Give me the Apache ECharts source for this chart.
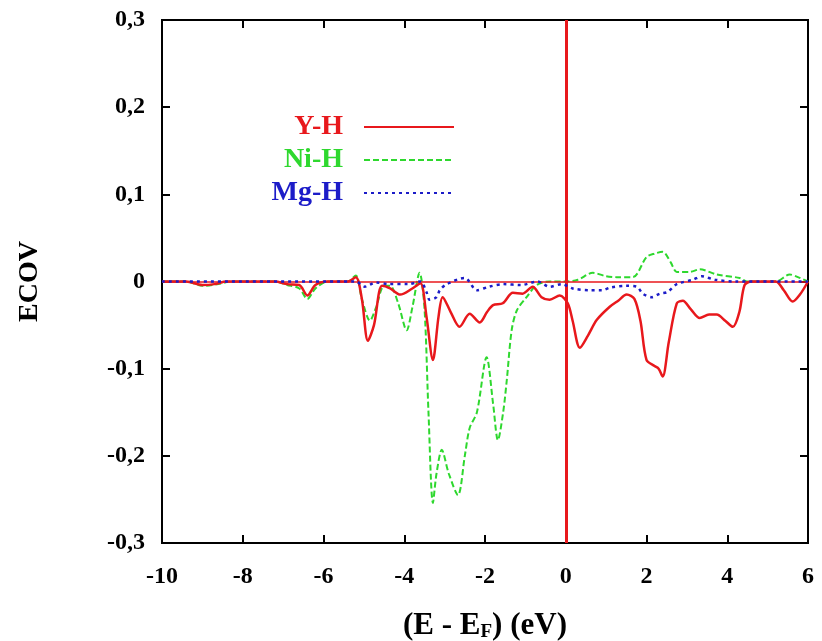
<!DOCTYPE html>
<html>
<head>
<meta charset="utf-8">
<script src="https://cdn.jsdelivr.net/npm/echarts@6/dist/echarts.min.js"></script>
<style>html,body{margin:0;padding:0;background:#fff}#c{width:822px;height:641px}</style>
</head>
<body>
<div id="c"></div>
<script>
// Y-H
var yhX = [-10,-9.4,-9.0,-8.7,-8.4,-7.2,-6.9,-6.6,-6.4,-6.2,-5.9,-5.4,-5.2,-5.05,-4.9,-4.75,-4.55,-4.35,-4.1,-3.8,-3.6,-3.45,-3.29,-3.15,-3.05,-2.85,-2.63,-2.38,-2.13,-1.95,-1.8,-1.56,-1.31,-1.07,-0.82,-0.6,-0.4,-0.15,0.05,0.17,0.35,0.55,0.77,1.09,1.3,1.51,1.7,1.85,2.0,2.2,2.3,2.4,2.55,2.75,2.9,3.1,3.32,3.55,3.74,3.95,4.14,4.3,4.43,4.6,5.2,5.4,5.62,5.8,6.0];
var yhY = [0,0,-0.004,-0.003,0,0,-0.003,-0.004,-0.016,-0.004,0,0,0.005,-0.02,-0.068,-0.05,-0.005,-0.008,-0.015,-0.008,-0.002,-0.04,-0.09,-0.04,-0.018,-0.035,-0.052,-0.037,-0.047,-0.035,-0.027,-0.025,-0.013,-0.014,-0.006,-0.018,-0.021,-0.016,-0.025,-0.045,-0.076,-0.062,-0.044,-0.029,-0.022,-0.015,-0.02,-0.045,-0.09,-0.097,-0.1,-0.109,-0.07,-0.025,-0.022,-0.032,-0.042,-0.038,-0.038,-0.045,-0.052,-0.035,-0.004,0,0,-0.01,-0.023,-0.015,0];
// Ni-H
var niX = [-10,-9.4,-9.0,-8.6,-8.3,-7.2,-6.9,-6.6,-6.4,-6.2,-5.9,-5.4,-5.2,-5.05,-4.85,-4.7,-4.5,-4.35,-4.15,-3.94,-3.8,-3.62,-3.5,-3.4,-3.29,-3.2,-3.07,-2.9,-2.67,-2.5,-2.38,-2.2,-1.96,-1.8,-1.68,-1.55,-1.46,-1.34,-1.21,-0.97,-0.72,-0.4,0,0.3,0.67,1.0,1.26,1.66,2.0,2.2,2.4,2.6,2.75,3.07,3.32,3.74,4.31,4.5,5.2,5.55,5.75,6.0];
var niY = [0,0,-0.005,-0.003,0,0,-0.004,-0.008,-0.02,-0.008,0,0,0.007,-0.02,-0.045,-0.03,-0.005,-0.005,-0.025,-0.056,-0.03,0.01,-0.03,-0.15,-0.254,-0.22,-0.193,-0.22,-0.245,-0.2,-0.168,-0.15,-0.087,-0.14,-0.182,-0.15,-0.113,-0.056,-0.033,-0.018,-0.004,0,0,0.002,0.01,0.006,0.005,0.005,0.028,0.032,0.034,0.022,0.011,0.011,0.014,0.008,0.004,0,0,0.008,0.005,0];
// Mg-H
var mgX = [-10,-5.2,-4.98,-4.7,-4.4,-3.9,-3.6,-3.45,-3.37,-3.2,-3.12,-2.95,-2.5,-2.2,-1.9,-1.55,-1.1,-0.7,-0.4,-0.1,0.17,0.6,0.9,1.1,1.5,1.76,1.91,2.13,2.33,2.52,2.75,3.15,3.37,3.7,4.2,6];
var mgY = [0,0,-0.006,-0.001,-0.003,-0.003,0,-0.012,-0.021,-0.018,-0.01,-0.003,0.004,-0.01,-0.006,-0.003,-0.004,0,-0.006,-0.003,-0.008,-0.01,-0.01,-0.007,-0.005,-0.006,-0.014,-0.018,-0.014,-0.012,-0.003,0.002,0.006,0.002,0,0];

var names = ['Y-H','Ni-H','Mg-H'];
var colors = ['#e8181c','#2ed82e','#1c1cc8'];
var xTicks = [-10,-8,-6,-4,-2,0,2,4,6];
var yTicks = [-0.3,-0.2,-0.1,0,0.1,0.2,0.3];

function zip(a,b){return a.map(function(v,i){return [v,b[i]];});}

var serif = '"Liberation Serif","Times New Roman",serif';
var chart = echarts.init(document.getElementById('c'));
var tickStyle = {show:true, inside:true, length:8, lineStyle:{color:'#000', width:2}};
var axLine = {show:true, onZero:false, lineStyle:{color:'#000', width:2}};
function legendFor(i, top){
  return {data:[names[i]], right:367, top:top, orient:'vertical', align:'right', padding:0,
    itemWidth:90, itemHeight:14, itemStyle:{opacity:0},
    textStyle:{color:colors[i], fontFamily:serif, fontWeight:'bold', fontSize:28, padding:[0,16,0,0]}};
}
chart.setOption({
  animation:false,
  backgroundColor:'#fff',
  grid:{left:162, right:14, top:20, bottom:98, show:true, borderColor:'#000', borderWidth:2, outerBoundsMode:'none', containLabel:false},
  legend:[legendFor(0,113), legendFor(1,146), legendFor(2,179)],
  xAxis:[{
    type:'value', min:xTicks[0], max:xTicks[xTicks.length-1], interval:2,
    axisLine:axLine, axisTick:tickStyle, splitLine:{show:false},
    axisLabel:{color:'#000', fontFamily:serif, fontWeight:'bold', fontSize:24, margin:22},
    name:'{a|(E - E}{s|F}{a|) (eV)}', nameLocation:'middle', nameGap:66,
    nameTextStyle:{rich:{
      a:{fontFamily:serif, fontSize:31, color:'#000', fontWeight:'bold'},
      s:{fontFamily:serif, fontSize:19, color:'#000', fontWeight:'bold', verticalAlign:'bottom', padding:[14,0,0,0]}
    }}
  },{
    type:'value', position:'top', min:-10, max:6, interval:2,
    axisLine:axLine, axisTick:tickStyle,
    axisLabel:{show:false}, splitLine:{show:false}
  }],
  yAxis:[{
    type:'value', min:yTicks[0], max:yTicks[yTicks.length-1], interval:0.1,
    axisLine:axLine, axisTick:tickStyle, splitLine:{show:false},
    axisLabel:{color:'#000', fontFamily:serif, fontWeight:'bold', fontSize:24, margin:17,
      formatter:function(v){ if(Math.abs(v)<1e-9) return '0'; return v.toFixed(1).replace('.',','); }},
    name:'ECOV', nameLocation:'middle', nameGap:118,
    nameTextStyle:{fontFamily:serif, fontSize:28, color:'#000', fontWeight:'bold'}
  },{
    type:'value', position:'right', min:-0.3, max:0.3, interval:0.1,
    axisLine:axLine, axisTick:tickStyle,
    axisLabel:{show:false}, splitLine:{show:false}
  }],
  series:[
    {name:names[0], type:'line', data:zip(yhX,yhY), smooth:0.3, showSymbol:false, symbol:'none', z:4,
     lineStyle:{color:colors[0], width:2.5}, itemStyle:{color:colors[0]},
     markLine:{silent:true, symbol:'none', label:{show:false},
       data:[{xAxis:0, lineStyle:{color:colors[0], width:3, type:'solid'}},
             {yAxis:0, lineStyle:{color:colors[0], width:1.5, type:'solid'}}]}},
    {name:names[1], type:'line', data:zip(niX,niY), smooth:0.3, showSymbol:false, symbol:'none', z:3,
     lineStyle:{color:colors[1], width:2, type:[6,3]}, itemStyle:{color:colors[1]}},
    {name:names[2], type:'line', data:zip(mgX,mgY), smooth:0.3, showSymbol:false, symbol:'none', z:5,
     lineStyle:{color:colors[2], width:2.5, type:[3,4]}, itemStyle:{color:colors[2]}}
  ]
});
</script>
</body>
</html>
